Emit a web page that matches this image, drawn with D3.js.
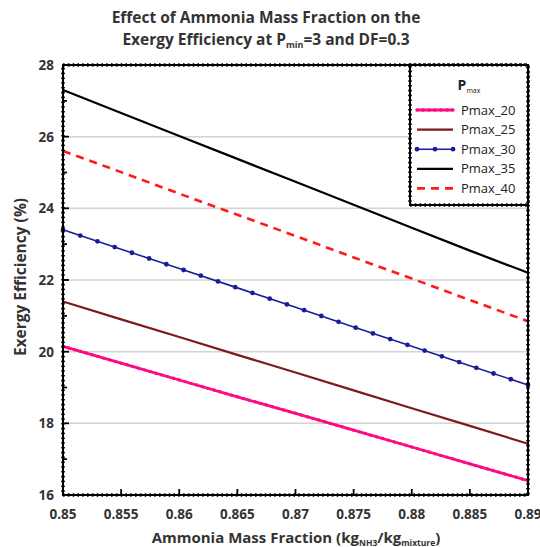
<!DOCTYPE html>
<html><head><meta charset="utf-8">
<script src="https://cdn.jsdelivr.net/npm/d3@7"></script>
<style>
html,body{margin:0;padding:0;background:#fff;overflow:hidden;}
svg{display:block;}
text{font-family:"Open Sans",Lato,sans-serif;}
</style></head>
<body>
<svg id="c" width="540" height="547"></svg>
<script>
// ---- data ----
const xValues = [0.85, 0.855, 0.86, 0.865, 0.87, 0.875, 0.88, 0.885, 0.89];
const pmax20 = [20.15, 19.68, 19.21, 18.74, 18.28, 17.81, 17.34, 16.87, 16.40];
const pmax25 = [21.40, 20.90, 20.41, 19.91, 19.42, 18.92, 18.42, 17.93, 17.43];
const pmax30 = [23.40, 22.86, 22.32, 21.78, 21.24, 20.69, 20.15, 19.61, 19.07];
const pmax35 = [27.30, 26.66, 26.02, 25.38, 24.74, 24.10, 23.46, 22.82, 22.20];
const pmax40 = [25.60, 25.01, 24.41, 23.82, 23.23, 22.63, 22.04, 21.44, 20.85];
const seriesNames = ["Pmax_20", "Pmax_25", "Pmax_30", "Pmax_35", "Pmax_40"];
const xTickLabels = ["0.85","0.855","0.86","0.865","0.87","0.875","0.88","0.885","0.89"];
const yTicks = [16, 18, 20, 22, 24, 26, 28];

const series = [
  {name: seriesNames[0], values: pmax20, color: "#ff0a80", width: 2.8, dash: null, marker: {n: 80, r: 1.7}},
  {name: seriesNames[1], values: pmax25, color: "#7f1a1a", width: 2.2, dash: null, marker: null},
  {name: seriesNames[2], values: pmax30, color: "#1c1c9a", width: 1.6, dash: null, marker: {n: 27, r: 2.4}},
  {name: seriesNames[3], values: pmax35, color: "#000000", width: 2.2, dash: null, marker: null},
  {name: seriesNames[4], values: pmax40, color: "#ff1a1a", width: 2.6, dash: "8,6", marker: null}
];

const svg = d3.select("#c");
const L = 63, R = 528, T = 65, B = 495;
const x = d3.scaleLinear().domain([0.85, 0.89]).range([L, R]);
const y = d3.scaleLinear().domain([16, 28]).range([B, T]);

// title
const title = svg.append("text").attr("x", 266).attr("text-anchor", "middle")
  .attr("font-weight", "bold").attr("font-size", 15.5).attr("fill", "#333");
title.append("tspan").attr("x", 266).attr("y", 23).text("Effect of Ammonia Mass Fraction on the");
const t2 = title.append("tspan").attr("x", 266).attr("y", 45);
t2.append("tspan").text("Exergy Efficiency at P");
t2.append("tspan").attr("font-size", 9).attr("dy", 3).text("min");
t2.append("tspan").attr("dy", -3).text("=3 and DF=0.3");

// gridlines
svg.append("g").selectAll("line").data(yTicks.filter(d => d > 16 && d < 28)).join("line")
  .attr("x1", L).attr("x2", R).attr("y1", d => y(d)).attr("y2", d => y(d))
  .attr("stroke", "#d4d4d4").attr("stroke-width", 1.5);

// lines
const line = d3.line().x((d, i) => x(xValues[i])).y(d => y(d));
const gLines = svg.append("g");
series.forEach(s => {
  const p = gLines.append("path").datum(s.values).attr("d", line)
    .attr("fill", "none").attr("stroke", s.color).attr("stroke-width", s.width)
    .attr("stroke-dasharray", s.dash);
  if (s.marker) {
    const node = p.node(), len = node.getTotalLength();
    const pts = d3.range(s.marker.n + 1).map(k => node.getPointAtLength(len * k / s.marker.n));
    gLines.append("g").selectAll("circle").data(pts).join("circle")
      .attr("cx", d => d.x).attr("cy", d => d.y).attr("r", s.marker.r).attr("fill", s.color);
  }
});

// frame with beaded look
function beadedRect(g, x0, y0, w, h) {
  g.append("rect").attr("x", x0).attr("y", y0).attr("width", w).attr("height", h)
    .attr("fill", "none").attr("stroke", "#000").attr("stroke-width", 2);
  g.append("rect").attr("x", x0).attr("y", y0).attr("width", w).attr("height", h)
    .attr("fill", "none").attr("stroke", "#000").attr("stroke-width", 3.6)
    .attr("stroke-dasharray", "1.6,3.2");
}
const frame = svg.append("g");

// ticks (inside)
const gy = svg.append("g");
gy.selectAll("line").data(d3.range(16, 29, 1)).join("line")
  .attr("x1", L).attr("x2", d => L + (d % 2 === 0 ? 6 : 4))
  .attr("y1", d => y(d)).attr("y2", d => y(d)).attr("stroke", "#000").attr("stroke-width", 1.8);
const gx = svg.append("g");
gx.selectAll("line").data(xValues).join("line")
  .attr("x1", d => x(d)).attr("x2", d => x(d)).attr("y1", B).attr("y2", B - 6)
  .attr("stroke", "#000").attr("stroke-width", 1.8);
beadedRect(frame, L, T, R - L, B - T);

// tick labels
svg.append("g").selectAll("text").data(yTicks).join("text")
  .attr("x", L - 9).attr("y", d => y(d) + 5).attr("text-anchor", "end")
  .attr("font-size", 13.5).attr("font-weight", "bold").attr("fill", "#333").text(d => d);
svg.append("g").selectAll("text").data(xValues).join("text")
  .attr("x", d => x(d)).attr("y", B + 24).attr("text-anchor", "middle")
  .attr("font-size", 13.5).attr("font-weight", "bold").attr("fill", "#333")
  .text((d, i) => xTickLabels[i]);

// axis titles
const xt = svg.append("text").attr("x", 296).attr("y", 543).attr("text-anchor", "middle")
  .attr("font-size", 15).attr("font-weight", "bold").attr("fill", "#333");
xt.append("tspan").text("Ammonia Mass Fraction (kg");
xt.append("tspan").attr("font-size", 8.5).attr("dy", 3).text("NH3");
xt.append("tspan").attr("dy", -3).text("/kg");
xt.append("tspan").attr("font-size", 8.5).attr("dy", 3).text("mixture");
xt.append("tspan").attr("dy", -3).text(")");

svg.append("text").attr("transform", `translate(26,${(T + B) / 2 - 3}) rotate(-90)`)
  .attr("text-anchor", "middle").attr("font-size", 15.5).attr("font-weight", "bold")
  .attr("fill", "#333").text("Exergy Efficiency (%)");

// legend
const lg = svg.append("g");
lg.append("rect").attr("x", 410).attr("y", T).attr("width", R - 410).attr("height", 140).attr("fill", "#fff");
beadedRect(lg, 410, T, R - 410, 140);
const lt = lg.append("text").attr("x", 469).attr("y", 90).attr("text-anchor", "middle")
  .attr("font-size", 14).attr("font-weight", "bold").attr("fill", "#222");
lt.append("tspan").text("P");
lt.append("tspan").attr("font-size", 7).attr("dy", 3).attr("font-weight", "normal").text("max");
series.forEach((s, i) => {
  const yy = 110 + i * 19.6;
  lg.append("line").attr("x1", 417).attr("x2", 453).attr("y1", yy).attr("y2", yy)
    .attr("stroke", s.color).attr("stroke-width", s.width).attr("stroke-dasharray", s.dash);
  if (s.marker) {
    const n = s.marker.n > 40 ? 6 : 2;
    lg.append("g").selectAll("circle").data(d3.range(n + 1)).join("circle")
      .attr("cx", k => 417 + 36 * k / n).attr("cy", yy).attr("r", s.marker.r).attr("fill", s.color);
  }
  lg.append("text").attr("x", 461).attr("y", yy + 4.5).attr("font-size", 13)
    .attr("fill", "#222").text(s.name);
});
</script>
</body></html>
